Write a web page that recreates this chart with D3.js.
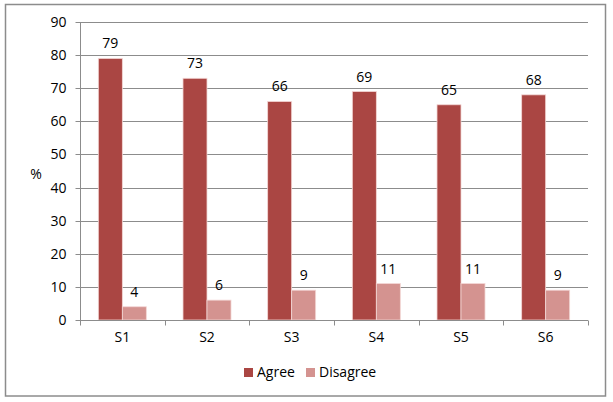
<!DOCTYPE html>
<html>
<head>
<meta charset="utf-8">
<script src="https://cdn.jsdelivr.net/npm/d3@7"></script>
<style>
  body { margin: 0; background: #fff; }
  svg text { font-family: "Open Sans", "Noto Sans", sans-serif; fill: #000; }
</style>
</head>
<body>
<svg id="chart" width="613" height="402"></svg>
<script>
// Chart data
const categories = ['S1', 'S2', 'S3', 'S4', 'S5', 'S6'];
const seriesNames = ['Agree', 'Disagree'];
const agreeValues = [79, 73, 66, 69, 65, 68];
const disagreeValues = [4, 6, 9, 11, 11, 9];
const yTicks = [0, 10, 20, 30, 40, 50, 60, 70, 80, 90];

const colors = { Agree: '#AA4643', Disagree: '#D49390' };

const svg = d3.select('#chart');

// Outer border
svg.append('rect')
    .attr('x', 5.5).attr('y', 4.5)
    .attr('width', 600).attr('height', 391.5)
    .attr('fill', '#fff')
    .attr('stroke', '#8c8c8c')
    .attr('stroke-width', 1.5);

const margin = { left: 80, right: 588, top: 22, bottom: 320 };

const x0 = d3.scaleBand().domain(categories).range([margin.left, margin.right]);
const x1 = d3.scaleBand().domain(seriesNames).range([0, 48]);
const y = d3.scaleLinear().domain([0, 90]).range([margin.bottom, margin.top]);

// Gridlines
svg.append('g')
    .selectAll('line')
    .data(yTicks.filter((t) => t > 0))
    .enter()
    .append('line')
    .attr('x1', margin.left).attr('x2', margin.right)
    .attr('y1', (d) => Math.round(y(d)) + 0.5)
    .attr('y2', (d) => Math.round(y(d)) + 0.5)
    .attr('stroke', '#8c8c8c');

// Y axis
const yAxis = svg.append('g')
    .attr('transform', `translate(${margin.left + 0.5},0)`)
    .call(d3.axisLeft(y).tickValues(yTicks).tickSize(5).tickPadding(9));
yAxis.select('.domain').attr('stroke', '#8c8c8c').attr('d', `M0,${margin.top}V${margin.bottom}`);
yAxis.selectAll('.tick line').attr('stroke', '#8c8c8c');
yAxis.selectAll('.tick').attr('transform', (d) => `translate(0,${Math.round(y(d)) + 0.5})`);
yAxis.selectAll('text').style('font-size', '14px');

// Y axis label
svg.append('text')
    .attr('x', 36).attr('y', 179)
    .attr('text-anchor', 'middle')
    .style('font-size', '14px')
    .text('%');

// Bars
const rows = categories.map((c, i) => ({
    cat: c,
    values: [
        { name: 'Agree', value: agreeValues[i] },
        { name: 'Disagree', value: disagreeValues[i] },
    ],
}));

const groups = svg.append('g')
    .selectAll('g')
    .data(rows)
    .enter()
    .append('g')
    .attr('transform', (d) => `translate(${x0(d.cat) + (x0.bandwidth() - 48) / 2},0)`);

groups.selectAll('rect')
    .data((d) => d.values)
    .enter()
    .append('rect')
    .attr('x', (d) => x1(d.name))
    .attr('y', (d) => y(d.value))
    .attr('width', x1.bandwidth())
    .attr('height', (d) => y(0) - y(d.value))
    .attr('fill', (d) => colors[d.name])
    .attr('stroke', '#f3d6d5')
    .attr('stroke-width', 0.8);

groups.selectAll('text')
    .data((d) => d.values)
    .enter()
    .append('text')
    .attr('x', (d) => x1(d.name) + x1.bandwidth() / 2)
    .attr('y', (d) => y(d.value) - 10)
    .attr('text-anchor', 'middle')
    .style('font-size', '14px')
    .text((d) => d.value);

// X axis
const xAxis = svg.append('g')
    .attr('transform', `translate(0,${margin.bottom + 0.5})`)
    .call(d3.axisBottom(x0).tickSize(0).tickPadding(12));
xAxis.select('.domain').attr('stroke', '#8c8c8c').attr('d', `M${margin.left},0H${margin.right}`);
xAxis.selectAll('text').style('font-size', '14px');

// Tick marks between categories
xAxis.append('g')
    .selectAll('line')
    .data(d3.range(categories.length + 1))
    .enter()
    .append('line')
    .attr('x1', (i) => Math.round(margin.left + i * x0.step()) + 0.5)
    .attr('x2', (i) => Math.round(margin.left + i * x0.step()) + 0.5)
    .attr('y1', 0).attr('y2', 5)
    .attr('stroke', '#8c8c8c');

// Legend
const legend = svg.append('g').attr('transform', 'translate(244,368)');
const legendX = [0, 62];
seriesNames.forEach((name, i) => {
    const item = legend.append('g').attr('transform', `translate(${legendX[i]},0)`);
    item.append('rect')
        .attr('width', 9).attr('height', 9)
        .attr('fill', colors[name]);
    item.append('text')
        .attr('x', 13).attr('y', 9)
        .style('font-size', '14px')
        .text(name);
});
</script>
</body>
</html>
